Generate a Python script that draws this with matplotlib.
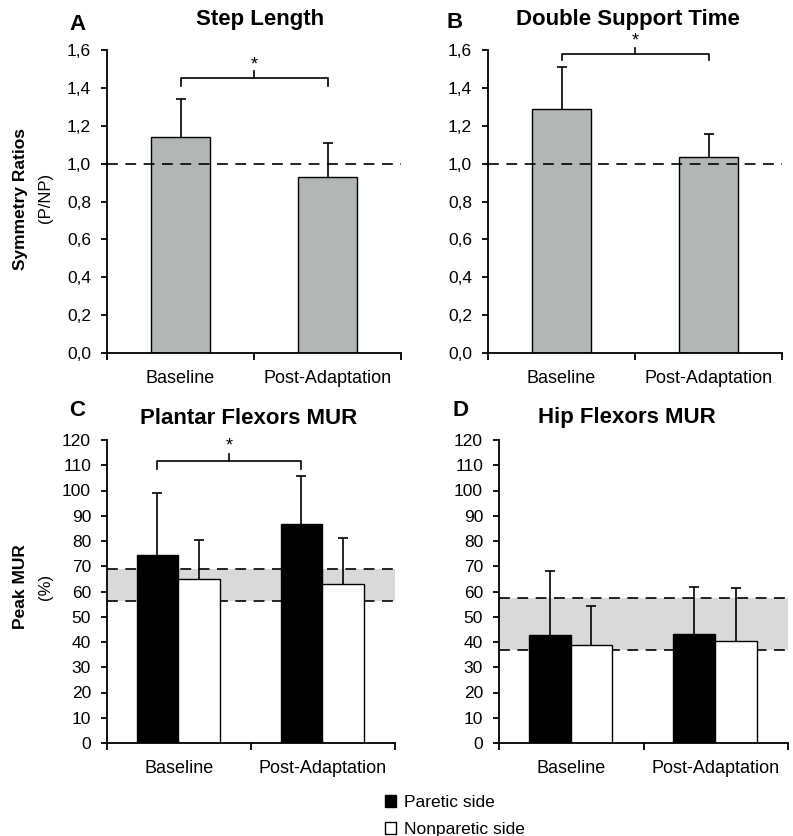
import matplotlib
matplotlib.use('Agg')
import matplotlib.pyplot as plt
from matplotlib.patches import Patch
import numpy as np

plt.rcParams['font.family'] = ['Liberation Sans', 'DejaVu Sans']

# categories / labels
conditions = ['Baseline', 'Post-Adaptation']
sym_ticks = [0.0, 0.2, 0.4, 0.6, 0.8, 1.0, 1.2, 1.4, 1.6]
sym_ticklabels = ['0,0', '0,2', '0,4', '0,6', '0,8', '1,0', '1,2', '1,4', '1,6']
mur_ticks = list(range(0, 121, 10))

# A: step length symmetry ratio (mean, SD)
step_mean = [1.14, 0.93]
step_sd = [0.20, 0.18]
# B: double support time symmetry ratio
dst_mean = [1.29, 1.035]
dst_sd = [0.22, 0.12]
# C: plantar flexors MUR (%)
pf_paretic = [74.3, 86.9]
pf_paretic_sd = [24.7, 18.7]
pf_nonparetic = [65.1, 63.1]
pf_nonparetic_sd = [15.2, 18.2]
pf_band = [56.1, 68.8]
# D: hip flexors MUR (%)
hf_paretic = [42.9, 43.3]
hf_paretic_sd = [25.1, 18.5]
hf_nonparetic = [39.0, 40.2]
hf_nonparetic_sd = [15.1, 21.3]
hf_band = [36.7, 57.3]

W, H = 793, 836
fig = plt.figure(figsize=(W / 100, H / 100), dpi=100)


def px_axes(left, right, bottom, top):
    return fig.add_axes([left / W, 1 - bottom / H, (right - left) / W, (bottom - top) / H])


def style(ax, ymax, ticks, ticklabels):
    ax.set_xlim(-0.5, 1.5)
    ax.set_ylim(0, ymax)
    for s in ['top', 'right']:
        ax.spines[s].set_visible(False)
    for s in ['left', 'bottom']:
        ax.spines[s].set_linewidth(1.3)
    ax.set_yticks(ticks)
    ax.set_yticklabels(ticklabels)
    ax.tick_params(axis='y', direction='out', length=4, width=1.3, pad=7.5, labelsize=12.5)
    ax.set_xticks([-0.5, 0.5, 1.5])
    ax.set_xticklabels([])
    ax.tick_params(axis='x', which='major', direction='out', length=5, width=1.3)
    ax.set_xticks([0, 1], minor=True)
    ax.set_xticklabels(conditions, minor=True)
    ax.tick_params(axis='x', which='minor', length=0, pad=12, labelsize=13)


def upper_err(ax, xs, ys, sd):
    # only the upper half of the SD is drawn
    eb = ax.errorbar(xs, ys, yerr=[np.zeros(len(sd)), sd], fmt='none', ecolor='black',
                     elinewidth=1.2, capsize=3.5, capthick=1.2, zorder=3)
    eb[1][0].set_visible(False)


def bracket(ax, x0, x1, y, drop, tip, star_y):
    xm = (x0 + x1) / 2
    ax.plot([x0, x0, x1, x1], [y - drop, y, y, y - drop], color='black', lw=1.2, clip_on=False)
    ax.plot([xm, xm], [y, y + tip], color='black', lw=1.2, clip_on=False)
    ax.text(xm, star_y, '*', ha='center', va='center', fontsize=13, clip_on=False)


gray = '#b3b6b6'
dash = (0, (6.5, 4.5))

# ---- A
axA = px_axes(107, 401, 353, 50)
x = np.arange(len(conditions))
axA.bar(x, step_mean, width=0.4, color=gray, edgecolor='black', linewidth=1.0, zorder=2)
upper_err(axA, x, step_mean, step_sd)
axA.axhline(1.0, color='black', lw=1.2, ls=dash, zorder=4)
style(axA, 1.6, sym_ticks, sym_ticklabels)
bracket(axA, 0, 1, 1.45, 0.04, 0.04, 1.52)

# ---- B
axB = px_axes(488, 782, 353, 50)
axB.bar(x, dst_mean, width=0.4, color=gray, edgecolor='black', linewidth=1.0, zorder=2)
upper_err(axB, x, dst_mean, dst_sd)
axB.axhline(1.0, color='black', lw=1.2, ls=dash, zorder=4)
style(axB, 1.6, sym_ticks, sym_ticklabels)
bracket(axB, 0, 1, 1.577, 0.032, 0.035, 1.65)


def mur_panel(ax, par, par_sd, nonpar, nonpar_sd, band):
    w = 0.29
    ax.axhspan(band[0], band[1], color='#d9d9d9', lw=0, zorder=0)
    for yv in band:
        ax.axhline(yv, color='black', lw=1.2, ls=dash, zorder=1)
    xp = x - w / 2 - 0.005
    xn = x + w / 2 - 0.005
    ax.bar(xp, par, width=w, color='black', edgecolor='black', linewidth=1.0, zorder=2)
    ax.bar(xn, nonpar, width=w, color='white', edgecolor='black', linewidth=1.0, zorder=2)
    upper_err(ax, xp, par, par_sd)
    upper_err(ax, xn, nonpar, nonpar_sd)
    style(ax, 120, mur_ticks, [str(t) for t in mur_ticks])


# ---- C
axC = px_axes(107, 395, 743, 440)
mur_panel(axC, pf_paretic, pf_paretic_sd, pf_nonparetic, pf_nonparetic_sd, pf_band)
bracket(axC, -0.15, 0.85, 111.6, 3, 3, 117.5)

# ---- D
axD = px_axes(499, 788, 743, 440)
mur_panel(axD, hf_paretic, hf_paretic_sd, hf_nonparetic, hf_nonparetic_sd, hf_band)


# titles and panel letters
def ftext(xp, yp, s, **kw):
    fig.text(xp / W, 1 - yp / H, s, ha='center', va='center', **kw)


ftext(260, 19.5, 'Step Length', fontsize=16, fontweight='bold')
ftext(628, 19, 'Double Support Time', fontsize=16, fontweight='bold')
ftext(249, 418, 'Plantar Flexors MUR', fontsize=16, fontweight='bold')
ftext(627, 418, 'Hip Flexors MUR', fontsize=16, fontweight='bold')
ftext(77, 24, 'A', fontsize=16, fontweight='bold')
ftext(455, 22.5, 'B', fontsize=16, fontweight='bold')
ftext(77, 411, 'C', fontsize=16, fontweight='bold')
ftext(460, 411, 'D', fontsize=16, fontweight='bold')

# y labels
ftext(21, 199, 'Symmetry Ratios', fontsize=12.5, fontweight='bold', rotation=90)
ftext(45, 198, '(P/NP)', fontsize=12, rotation=90)
ftext(21, 587, 'Peak MUR', fontsize=12.5, fontweight='bold', rotation=90)
ftext(45, 587, '(%)', fontsize=12, rotation=90)

# legend
handles = [Patch(facecolor='black', edgecolor='black', lw=1.0),
           Patch(facecolor='white', edgecolor='black', lw=1.0)]
fig.legend(handles, ['Paretic side', 'Nonparetic side'], loc='upper left',
           bbox_to_anchor=(385 / W, 1 - 795 / H), frameon=False, fontsize=12.5,
           handlelength=0.66, handleheight=0.66, handletextpad=0.45,
           labelspacing=0.7, borderpad=0, borderaxespad=0)

fig.savefig('out.png', dpi=100)
